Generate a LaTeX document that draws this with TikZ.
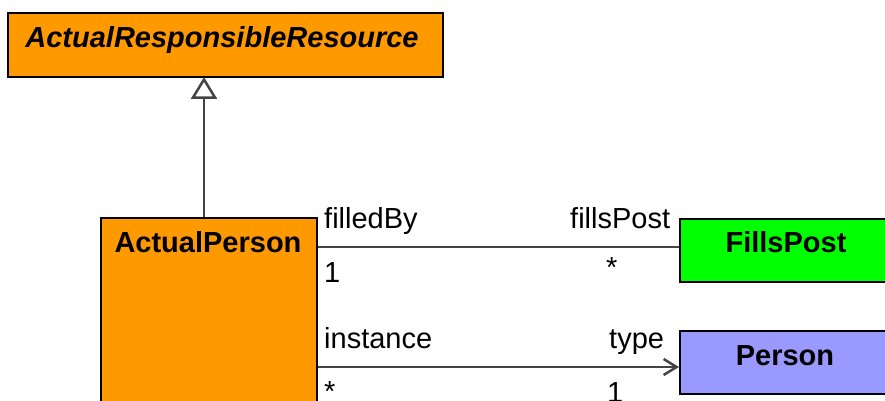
\documentclass[tikz,border=0pt]{standalone}
\usepackage{fontspec}
\setmainfont{Liberation Sans}
\usetikzlibrary{arrows.meta,calc}
\definecolor{umlorange}{HTML}{FF9900}
\definecolor{umlgreen}{HTML}{00FF00}
\definecolor{umlblue}{HTML}{9999FF}
\definecolor{conngray}{HTML}{444444}
\begin{document}
\begin{tikzpicture}[x=1pt,y=-1pt,
  box/.style={draw=black, line width=2pt, rectangle, inner sep=0pt, anchor=north west},
  title/.style={font=\fontsize{29}{34}\selectfont\bfseries, anchor=base, inner sep=0pt},
  lbl/.style={font=\fontsize{29}{34}\selectfont, anchor=base west, inner sep=0pt},
  conn/.style={draw=conngray, line width=2.5pt}]
\useasboundingbox (0,0) rectangle (885,400);
\clip (0,0) rectangle (885,400);
% classes
\node[box, fill=umlorange, minimum width=435pt, minimum height=64pt] (arr) at (7,12) {};
\node[title, font=\fontsize{29}{34}\selectfont\bfseries\itshape] (arrt) at (222,47) {ActualResponsibleResource};
\node[box, fill=umlorange, minimum width=216pt, minimum height=220pt] (ap) at (100,217) {};
\node[title] (apt) at (208,252) {ActualPerson};
\node[box, fill=umlgreen, minimum width=240pt, minimum height=63pt] (fp) at (679,217.5) {};
\node[title] (fpt) at (786,252) {FillsPost};
\node[box, fill=umlblue, minimum width=240pt, minimum height=63pt] (pe) at (679,330) {};
\node[title] (pet) at (785,365) {Person};
% connector anchor points
\path (ap.north west) ++(104,0) coordinate (gen);
\path (gen |- arr.south) ++(0,1.5) coordinate (gentip);
\path (gentip) ++(0,18) coordinate (genbase);
\path (fp.north west) ++(0,29.5) coordinate (fpin);
\path (pe.north west) ++(0,37) coordinate (pein);
% generalization
\draw[conn] (gen) -- (genbase);
\draw[conn, fill=white, line join=miter] (gentip) -- ($(genbase)+(-11,0)$) -- ($(genbase)+(11,0)$) -- cycle;
% filledBy / fillsPost
\draw[conn] (ap.east |- fpin) -- (fpin);
% instance / type
\draw[conn, -{Straight Barb[length=13pt, width=16pt]}] (ap.east |- pein) -- (pein);
% role labels and multiplicities
\node[lbl] (l1) at (324,228) {filledBy};
\node[lbl] (l2) at (324,282) {1};
\node[lbl] (l3) at (570,228) {fillsPost};
\node[lbl] (l4) at (606,277) {*};
\node[lbl] (l5) at (324,348) {instance};
\node[lbl] (l6) at (324,401) {*};
\node[lbl] (l7) at (609,348) {type};
\node[lbl] (l8) at (607,402) {1};
\end{tikzpicture}
\end{document}
